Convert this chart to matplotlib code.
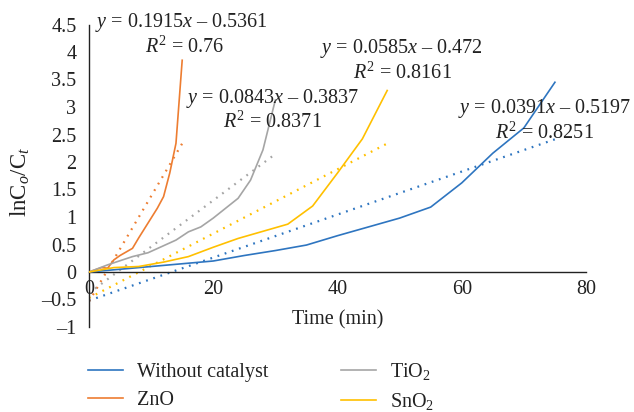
import numpy as np
import matplotlib
matplotlib.use("Agg")
import matplotlib.pyplot as plt

plt.rcParams["font.family"] = ["Liberation Serif", "DejaVu Serif"]
plt.rcParams["mathtext.fontset"] = "custom"
plt.rcParams["mathtext.rm"] = "Liberation Serif"
plt.rcParams["mathtext.it"] = "Liberation Serif:italic"
plt.rcParams["font.size"] = 14.5

# Series (time in min, lnC0/Ct)
t_none = [0, 5, 10, 15, 20, 25, 30, 35, 40, 45, 50, 55, 60, 65, 70, 75]
y_none = [0, 0.05, 0.1, 0.15, 0.2, 0.3, 0.39, 0.49, 0.66, 0.82, 0.98, 1.18, 1.62, 2.16, 2.62, 3.45]

t_zno = [0, 2, 3, 4, 5, 7, 8, 10, 11, 12, 13, 14, 15]
y_zno = [0, 0.08, 0.07, 0.22, 0.3, 0.43, 0.62, 0.98, 1.16, 1.37, 1.8, 2.34, 3.85]

t_tio2 = [0, 3, 7, 9.5, 14, 16, 18, 20, 24, 26, 28, 30]
y_tio2 = [0, 0.13, 0.28, 0.35, 0.58, 0.73, 0.82, 0.98, 1.34, 1.67, 2.22, 3.13]

t_sno2 = [0, 4, 8, 12, 16, 20, 24, 28, 32, 36, 40, 44, 48]
y_sno2 = [0, 0.08, 0.1, 0.18, 0.28, 0.45, 0.61, 0.74, 0.87, 1.2, 1.8, 2.42, 3.3]

# linear trendlines (slope, intercept, R2)
fit_none = (0.0391, -0.5197, 0.8251)
fit_zno = (0.1915, -0.5361, 0.76)
fit_tio2 = (0.0843, -0.3837, 0.8371)
fit_sno2 = (0.0585, -0.472, 0.8161)

c_blue = "#2E75C0"
c_orange = "#ED7D31"
c_gray = "#A5A5A5"
c_yellow = "#FFC000"
c_text = "#222222"

fig = plt.figure(figsize=(6.34, 4.12), dpi=100)
ax = fig.add_axes([89 / 634, 1 - 327 / 412, 497 / 634, 302.5 / 412])

series = [
    ("Without catalyst", t_none, y_none, fit_none, c_blue),
    ("ZnO", t_zno, y_zno, fit_zno, c_orange),
    ("TiO$_2$", t_tio2, y_tio2, fit_tio2, c_gray),
    ("SnO$_2$", t_sno2, y_sno2, fit_sno2, c_yellow),
]

for name, t, y, fit, col in series:
    ax.plot(t, y, color=col, lw=1.2, label=name, zorder=3)
    tt = np.array([0, t[-1]])
    ax.plot(tt, fit[0] * tt + fit[1], color=col, lw=1.6,
            linestyle=(0, (0.8, 2.6)), zorder=2)

# trendline equations: (fit, eq left x, eq y, R2 left x, R2 y) in pixels
eqs = [
    (fit_zno, 95, 23, 145, 47),
    (fit_tio2, 186, 98, 223, 122),
    (fit_sno2, 320, 49, 353, 73),
    (fit_none, 458, 108, 495, 133),
]
for fit, x1, y1, x2, y2 in eqs:
    b = abs(fit[1])
    fig.text(x1 / 634, 1 - y1 / 412, f"$y$ = {fit[0]:g}$x$ \u2013 {b:g}",
             ha="left", va="center", color=c_text)
    fig.text(x2 / 634, 1 - y2 / 412, f"$R^2$ = {fit[2]:g}",
             ha="left", va="center", color=c_text)

ax.set_xlim(0, 80)
ax.set_ylim(-1, 4.5)
ax.set_xticks([0, 20, 40, 60, 80])
yt = np.arange(-1, 4.51, 0.5)
ax.set_yticks(yt)
ax.set_yticklabels([f"{v:g}".replace("-", "\u2013") for v in yt])
ax.spines["bottom"].set_position(("data", 0))
ax.spines["top"].set_visible(False)
ax.spines["right"].set_visible(False)
for s in ("left", "bottom"):
    ax.spines[s].set_color(c_text)
    ax.spines[s].set_linewidth(1.0)
ax.tick_params(axis="y", length=0, pad=9, colors=c_text)
ax.tick_params(axis="x", length=0, pad=6, colors=c_text)

ax.text(0.5, 0.023, "Time (min)", transform=ax.transAxes,
        ha="center", va="center", color=c_text)
fig.text(20 / 634, 1 - 182 / 412, r"$\mathrm{lnC}_{\mathit{o}}/\mathrm{C}_{\mathit{t}}$",
         rotation=90, ha="center", va="center", color=c_text, fontsize=16.5)

h, l = ax.get_legend_handles_labels()
fig.legend(h, l, ncol=2, frameon=False, loc="upper left",
           bbox_to_anchor=(88 / 634, 1 - 361 / 412), borderpad=0,
           borderaxespad=0, handlelength=1.74, handletextpad=0.7,
           columnspacing=3.6, labelspacing=0.44, labelcolor=c_text)

fig.savefig("out.png", dpi=100)
